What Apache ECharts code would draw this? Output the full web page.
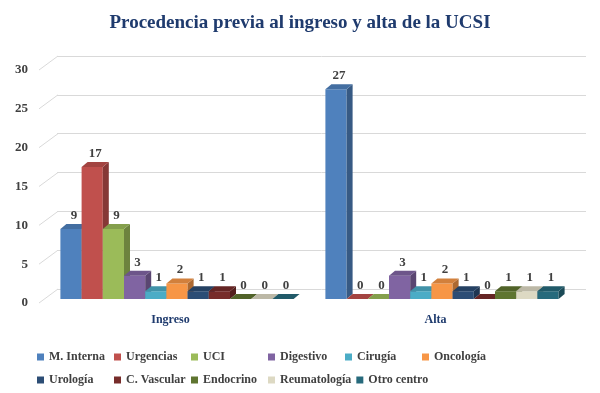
<!DOCTYPE html>
<html>
<head>
<meta charset="utf-8">
<script src="https://cdn.jsdelivr.net/npm/echarts@6/dist/echarts.min.js"></script>
<style>
  html, body { margin: 0; padding: 0; background: #fff; }
  #chart { width: 600px; height: 393px; }
</style>
</head>
<body>
<div id="chart"></div>
<script>
// datos
var categories = ['Ingreso', 'Alta'];
var seriesNames = ['M. Interna', 'Urgencias', 'UCI', 'Digestivo', 'Cirugía', 'Oncología',
  'Urología', 'C. Vascular', 'Endocrino', 'Reumatología', 'Otro centro'];
var ingresoValues = [9, 17, 9, 3, 1, 2, 1, 1, 0, 0, 0];
var altaValues = [27, 0, 0, 3, 1, 2, 1, 0, 1, 1, 1];
var yTicks = [0, 5, 10, 15, 20, 25, 30];

var colors = ['#4F81BD', '#C0504D', '#9BBB59', '#8064A2', '#4BACC6', '#F79646',
  '#2C4D75', '#772C2A', '#5F7530', '#DDD9C3', '#276A7C'];

var FONT = 'Liberation Serif';
var DEPTH_X = 6, DEPTH_Y = 5;    // profundidad de las barras
var SHIFT_X = 6.5, SHIFT_Y = -4; // desplazamiento de la fila de barras
var WALL_X = 19, WALL_Y = -14;   // pared del fondo

function shade(hex, f) {
  var n = parseInt(hex.slice(1), 16);
  var r = (n >> 16) & 255, g = (n >> 8) & 255, b = n & 255;
  function c(v) { return Math.max(0, Math.min(255, Math.round(f < 1 ? v * f : v + (255 - v) * (f - 1)))); }
  return 'rgb(' + c(r) + ',' + c(g) + ',' + c(b) + ')';
}

var chart = echarts.init(document.getElementById('chart'));

var barSeries = seriesNames.map(function (name, idx) {
  var color = colors[idx];
  return {
    name: name,
    type: 'custom',
    xAxisIndex: 0,
    yAxisIndex: 0,
    itemStyle: { color: color },
    data: [[0, ingresoValues[idx]], [1, altaValues[idx]]],
    renderItem: function (params, api) {
      var cat = api.value(0), val = api.value(1);
      var bw = api.size([1, 0])[0];
      var barW = bw * 0.88 / seriesNames.length;
      var groupW = barW * seriesNames.length;
      var top = api.coord([cat, val]);
      var base = api.coord([cat, 0]);
      var x0 = top[0] - groupW / 2 + idx * barW + SHIFT_X;
      var yTop = top[1] + SHIFT_Y;
      var yBase = base[1] + SHIFT_Y;
      return {
        type: 'group',
        children: [
          {
            type: 'rect',
            shape: { x: x0, y: yTop, width: barW, height: yBase - yTop },
            style: { fill: color }
          },
          {
            type: 'polygon',
            shape: { points: [[x0 + barW, yTop], [x0 + barW + DEPTH_X, yTop - DEPTH_Y],
              [x0 + barW + DEPTH_X, yBase - DEPTH_Y], [x0 + barW, yBase]] },
            style: { fill: shade(color, 0.7) }
          },
          {
            type: 'polygon',
            shape: { points: [[x0, yTop], [x0 + DEPTH_X, yTop - DEPTH_Y],
              [x0 + barW + DEPTH_X, yTop - DEPTH_Y], [x0 + barW, yTop]] },
            style: { fill: shade(color, 0.85) }
          },
          {
            type: 'text',
            z2: 100,
            style: {
              x: x0 + barW / 2 + 3,
              y: yTop - DEPTH_Y - 2,
              text: String(val),
              fill: '#404040',
              font: 'bold 13px "' + FONT + '"',
              align: 'center',
              verticalAlign: 'bottom'
            }
          }
        ]
      };
    }
  };
});

// lineas inclinadas de la pared lateral
var wallSeries = {
  type: 'custom',
  silent: true,
  xAxisIndex: 0,
  yAxisIndex: 0,
  z: 1,
  data: yTicks.map(function (t) { return [0, t]; }),
  renderItem: function (params, api) {
    var y = api.coord([0, api.value(1)])[1];
    var x = params.coordSys.x + 1;
    return {
      type: 'line',
      shape: { x1: x, y1: y, x2: x + WALL_X, y2: y + WALL_Y },
      style: { stroke: '#d9d9d9', lineWidth: 1 }
    };
  }
};

chart.setOption({
  animation: false,
  title: {
    text: 'Procedencia previa al ingreso y alta de la UCSI',
    left: 'center',
    top: 9,
    textStyle: { fontFamily: FONT, fontWeight: 'bold', fontSize: 19, color: '#1F3B6E' }
  },
  legend: {
    data: seriesNames,
    left: 32,
    top: 343,
    width: 470,
    itemWidth: 7,
    itemHeight: 7,
    itemGap: 5,
    icon: 'rect',
    textStyle: {
      fontFamily: FONT, fontWeight: 'bold', fontSize: 12, color: '#404040',
      width: 60, height: 18, lineHeight: 18
    }
  },
  grid: [
    { left: 38, right: 32, top: 70, bottom: 90 },
    { left: 38 + WALL_X, right: 14, top: 70 + WALL_Y, bottom: 90 - WALL_Y }
  ],
  xAxis: [
    {
      type: 'category',
      data: categories,
      gridIndex: 0,
      axisLine: { show: false },
      axisTick: { show: false },
      axisLabel: { margin: 11, fontFamily: FONT, fontWeight: 'bold', fontSize: 12, color: '#1F3B6E' }
    },
    { type: 'category', data: categories, gridIndex: 1, show: false }
  ],
  yAxis: [
    {
      type: 'value',
      gridIndex: 0,
      min: 0,
      max: 30,
      interval: 5,
      axisLine: { show: false },
      axisTick: { show: false },
      splitLine: { show: false },
      axisLabel: { margin: 10, fontFamily: FONT, fontWeight: 'bold', fontSize: 13, color: '#404040' }
    },
    {
      type: 'value',
      gridIndex: 1,
      min: 0,
      max: 30,
      interval: 5,
      axisLine: { show: false },
      axisTick: { show: false },
      axisLabel: { show: false },
      splitLine: { lineStyle: { color: '#d9d9d9', width: 1 } }
    }
  ],
  series: [wallSeries].concat(barSeries)
});
</script>
</body>
</html>
